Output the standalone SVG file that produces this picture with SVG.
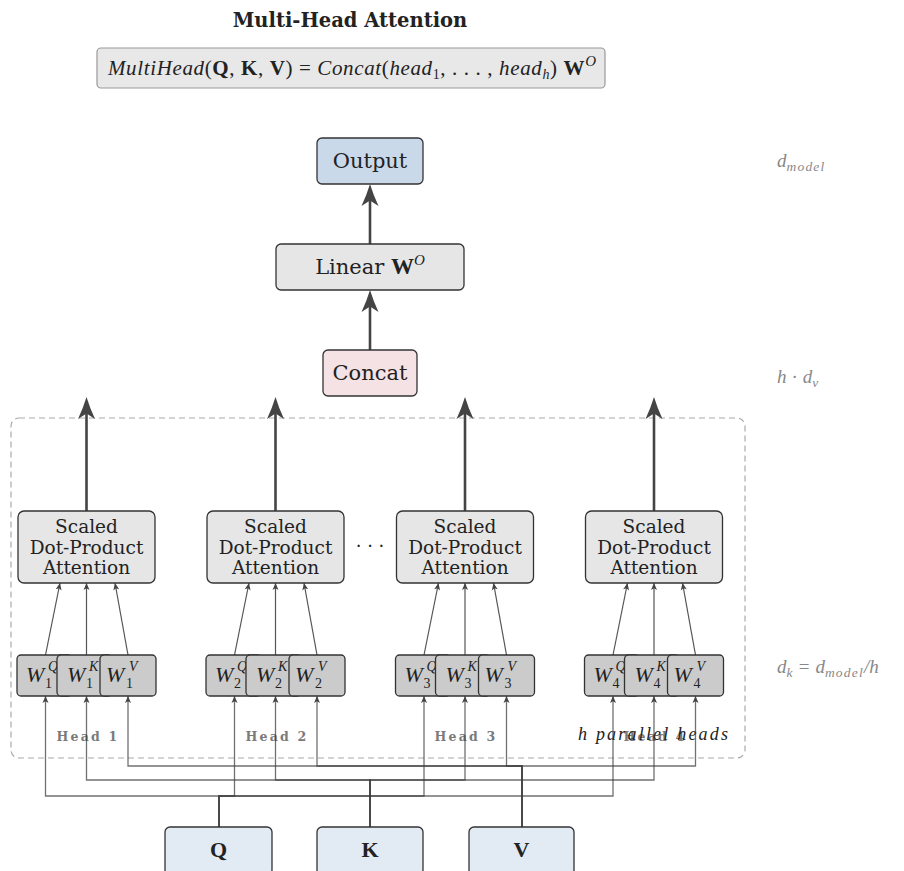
<svg xmlns="http://www.w3.org/2000/svg" width="904" height="871" viewBox="0 0 904 871">
  <style>
    .txt { font-family: "DejaVu Serif", "Liberation Serif", serif; fill: #222; }
    .math { font-family: "Liberation Serif", "DejaVu Serif", serif; fill: #222; }
    .title { font-family: "DejaVu Serif", "Liberation Serif", serif; font-weight: bold; font-size: 19.5px; fill: #222; }
    .node { stroke: #333; stroke-width: 1.3; }
    .gray { fill: #e6e6e6; }
    .wbox { fill: #cbcbcb; stroke: #333; stroke-width: 1.3; }
    .blue { fill: #c9d9ea; }
    .pink { fill: #f5e2e4; }
    .inp { fill: #e2eaf4; }
    .thick { stroke: #444; stroke-width: 2.6; fill: none; marker-end: url(#big); }
    .thin { stroke: #555; stroke-width: 1.2; fill: none; marker-end: url(#small); }
    .bus { stroke: #3a3a3a; stroke-opacity: 0.72; stroke-width: 1.3; fill: none; marker-end: url(#small); }
    .dim { font-family: "Liberation Serif", serif; font-style: italic; font-size: 19px; fill: #888; }
    .dsub { font-size: 13.5px; letter-spacing: 1.2px; }
    .head { font-family: "DejaVu Serif", "Liberation Serif", serif; font-weight: bold; font-size: 12.5px; letter-spacing: 2.2px; fill: #7a7a7a; }
    .sdpa { font-size: 18.5px; }
    .w { font-family: "Liberation Serif", serif; font-style: italic; font-size: 22px; fill: #222; }
    .ws { font-family: "Liberation Serif", serif; font-size: 14px; fill: #222; }
  </style>
  <defs>
    <marker id="big" markerUnits="userSpaceOnUse" markerWidth="30" markerHeight="20" refX="0" refY="0" orient="auto" overflow="visible">
      <path d="M10,0 Q0,-3 -12,-8.5 L-6.5,0 L-12,8.5 Q0,3 10,0 Z" fill="#444"/>
    </marker>
    <marker id="small" markerUnits="userSpaceOnUse" markerWidth="10" markerHeight="8" refX="0" refY="0" orient="auto" overflow="visible">
      <path d="M0,0 L-7,-3 L-5.3,0 L-7,3 Z" fill="#444"/>
    </marker>
  </defs>

  <!-- heading and formula -->
  <text class="title" x="350" y="27" text-anchor="middle">Multi-Head Attention</text>
  <g id="formula">
    <rect x="97" y="48" width="508" height="40" rx="4" fill="#e8e8e8" stroke="#999" stroke-width="1.2"/>
    <text class="math" x="108" y="75" font-size="21" textLength="488" lengthAdjust="spacing"><tspan font-style="italic">MultiHead</tspan>(<tspan font-weight="bold">Q</tspan>, <tspan font-weight="bold">K</tspan>, <tspan font-weight="bold">V</tspan>) = <tspan font-style="italic">Concat</tspan>(<tspan font-style="italic">head</tspan><tspan font-size="14" dy="4">1</tspan><tspan dy="-4">, . . . , </tspan><tspan font-style="italic">head</tspan><tspan font-size="14" font-style="italic" dy="4">h</tspan><tspan dy="-4">) </tspan><tspan font-weight="bold">W</tspan><tspan font-size="15" font-style="italic" dy="-9">O</tspan></text>
  </g>

  <!-- dimension notes -->
  <text class="dim" x="777" y="167">d<tspan class="dsub" dy="4">model</tspan></text>
  <text class="dim" x="777" y="383">h<tspan dx="5" font-style="normal">·</tspan><tspan dx="5">d</tspan><tspan class="dsub" dy="4">v</tspan></text>
  <text class="dim" x="777" y="673">d<tspan class="dsub" dy="4">k</tspan><tspan dy="-4" dx="5" font-style="normal">=</tspan><tspan dx="6">d</tspan><tspan class="dsub" dy="4">model</tspan><tspan dy="-4">/h</tspan></text>

  <!-- parallel heads frame -->
  <rect x="11" y="418" width="734" height="340" rx="8" fill="none" stroke="#aaa" stroke-width="1.2" stroke-dasharray="6,4"/>
  <g id="head-labels">
    <text class="head" x="88" y="741" text-anchor="middle">Head 1</text>
    <text class="head" x="277" y="741" text-anchor="middle">Head 2</text>
    <text class="head" x="466" y="741" text-anchor="middle">Head 3</text>
    <text class="head" x="655" y="741" text-anchor="middle">Head 4</text>
    <text class="math" x="578" y="740" font-size="18" font-style="italic" fill="#777" textLength="150" lengthAdjust="spacing">h parallel heads</text>
  </g>
  <text class="txt" x="370" y="552" text-anchor="middle" font-size="18" fill="#444">· · ·</text>

  <!-- connectors -->
  <g id="connectors">
    <line class="thick" x1="370" y1="244" x2="370" y2="194"/>
    <line class="thick" x1="370" y1="350" x2="370" y2="300"/>
    <line class="thick" x1="86.5" y1="511" x2="86.5" y2="407"/>
    <line class="thick" x1="275.5" y1="511" x2="275.5" y2="407"/>
    <line class="thick" x1="465" y1="511" x2="465" y2="407"/>
    <line class="thick" x1="654" y1="511" x2="654" y2="407"/>

    <!-- projections into attention -->
    <line class="thin" x1="45.5" y1="655" x2="60" y2="583"/>
    <line class="thin" x1="86.5" y1="655" x2="86.5" y2="583"/>
    <line class="thin" x1="128" y1="655" x2="115" y2="583"/>
    <line class="thin" x1="234.5" y1="655" x2="249" y2="583"/>
    <line class="thin" x1="275.5" y1="655" x2="275.5" y2="583"/>
    <line class="thin" x1="317" y1="655" x2="304" y2="583"/>
    <line class="thin" x1="424" y1="655" x2="438.5" y2="583"/>
    <line class="thin" x1="465" y1="655" x2="465" y2="583"/>
    <line class="thin" x1="506.5" y1="655" x2="493.5" y2="583"/>
    <line class="thin" x1="613" y1="655" x2="627.5" y2="583"/>
    <line class="thin" x1="654" y1="655" x2="654" y2="583"/>
    <line class="thin" x1="695.5" y1="655" x2="682.5" y2="583"/>

    <!-- Q bus -->
    <path class="bus" d="M219,827 V796 H45.5 V696"/>
    <path class="bus" d="M219,827 V796 H234.5 V696"/>
    <path class="bus" d="M219,827 V796 H424 V696"/>
    <path class="bus" d="M219,827 V796 H613 V696"/>
    <!-- K bus -->
    <path class="bus" d="M370,827 V780 H86.5 V696"/>
    <path class="bus" d="M370,827 V780 H275.5 V696"/>
    <path class="bus" d="M370,827 V780 H465 V696"/>
    <path class="bus" d="M370,827 V780 H654 V696"/>
    <!-- V bus -->
    <path class="bus" d="M522,827 V766 H128 V696"/>
    <path class="bus" d="M522,827 V766 H317 V696"/>
    <path class="bus" d="M522,827 V766 H506.5 V696"/>
    <path class="bus" d="M522,827 V766 H695.5 V696"/>
  </g>

  <!-- output stack -->
  <g id="output">
    <rect class="node blue" x="317" y="138" width="106" height="46" rx="5"/>
    <text class="txt" x="370" y="168" text-anchor="middle" font-size="21">Output</text>
  </g>
  <g id="linear">
    <rect class="node gray" x="276" y="244" width="188" height="46" rx="5"/>
    <text class="txt" x="370" y="274" text-anchor="middle" font-size="21">Linear <tspan class="math" font-weight="bold" font-size="23">W</tspan><tspan class="math" font-style="italic" font-size="15" dy="-9">O</tspan></text>
  </g>
  <g id="concat">
    <rect class="node pink" x="323" y="350" width="94" height="46" rx="5"/>
    <text class="txt" x="370" y="380" text-anchor="middle" font-size="21">Concat</text>
  </g>

  <!-- attention blocks -->
  <g id="sdpa-1">
    <rect class="node gray" x="18" y="511" width="137" height="72" rx="6"/>
    <text class="txt sdpa" text-anchor="middle"><tspan x="86.5" y="533">Scaled</tspan><tspan x="86.5" y="553.5">Dot-Product</tspan><tspan x="86.5" y="574">Attention</tspan></text>
  </g>
  <g id="sdpa-2">
    <rect class="node gray" x="207" y="511" width="137" height="72" rx="6"/>
    <text class="txt sdpa" text-anchor="middle"><tspan x="275.5" y="533">Scaled</tspan><tspan x="275.5" y="553.5">Dot-Product</tspan><tspan x="275.5" y="574">Attention</tspan></text>
  </g>
  <g id="sdpa-3">
    <rect class="node gray" x="396.5" y="511" width="137" height="72" rx="6"/>
    <text class="txt sdpa" text-anchor="middle"><tspan x="465" y="533">Scaled</tspan><tspan x="465" y="553.5">Dot-Product</tspan><tspan x="465" y="574">Attention</tspan></text>
  </g>
  <g id="sdpa-4">
    <rect class="node gray" x="585.5" y="511" width="137" height="72" rx="6"/>
    <text class="txt sdpa" text-anchor="middle"><tspan x="654" y="533">Scaled</tspan><tspan x="654" y="553.5">Dot-Product</tspan><tspan x="654" y="574">Attention</tspan></text>
  </g>

  <!-- projection matrices, head 1 -->
  <g id="wq-1"><rect class="wbox" x="17" y="655" width="55" height="41" rx="4"/><text class="w" x="26" y="682">W</text><text class="ws" x="45" y="688">1</text><text class="ws" x="48" y="671" font-style="italic">Q</text></g>
  <g id="wk-1"><rect class="wbox" x="57" y="655" width="55" height="41" rx="4"/><text class="w" x="67" y="682">W</text><text class="ws" x="86" y="688">1</text><text class="ws" x="89" y="671" font-style="italic">K</text></g>
  <g id="wv-1"><rect class="wbox" x="100" y="655" width="56" height="41" rx="4"/><text class="w" x="106" y="682">W</text><text class="ws" x="126" y="688">1</text><text class="ws" x="129" y="671" font-style="italic">V</text></g>
  <!-- head 2 -->
  <g id="wq-2"><rect class="wbox" x="206" y="655" width="55" height="41" rx="4"/><text class="w" x="215" y="682">W</text><text class="ws" x="234" y="688">2</text><text class="ws" x="237" y="671" font-style="italic">Q</text></g>
  <g id="wk-2"><rect class="wbox" x="246" y="655" width="55" height="41" rx="4"/><text class="w" x="256" y="682">W</text><text class="ws" x="275" y="688">2</text><text class="ws" x="278" y="671" font-style="italic">K</text></g>
  <g id="wv-2"><rect class="wbox" x="289" y="655" width="56" height="41" rx="4"/><text class="w" x="295" y="682">W</text><text class="ws" x="315" y="688">2</text><text class="ws" x="318" y="671" font-style="italic">V</text></g>
  <!-- head 3 -->
  <g id="wq-3"><rect class="wbox" x="395.5" y="655" width="55" height="41" rx="4"/><text class="w" x="404.5" y="682">W</text><text class="ws" x="423.5" y="688">3</text><text class="ws" x="426.5" y="671" font-style="italic">Q</text></g>
  <g id="wk-3"><rect class="wbox" x="435.5" y="655" width="55" height="41" rx="4"/><text class="w" x="445.5" y="682">W</text><text class="ws" x="464.5" y="688">3</text><text class="ws" x="467.5" y="671" font-style="italic">K</text></g>
  <g id="wv-3"><rect class="wbox" x="478.5" y="655" width="56" height="41" rx="4"/><text class="w" x="484.5" y="682">W</text><text class="ws" x="504.5" y="688">3</text><text class="ws" x="507.5" y="671" font-style="italic">V</text></g>
  <!-- head 4 -->
  <g id="wq-4"><rect class="wbox" x="584.5" y="655" width="55" height="41" rx="4"/><text class="w" x="593.5" y="682">W</text><text class="ws" x="612.5" y="688">4</text><text class="ws" x="615.5" y="671" font-style="italic">Q</text></g>
  <g id="wk-4"><rect class="wbox" x="624.5" y="655" width="55" height="41" rx="4"/><text class="w" x="634.5" y="682">W</text><text class="ws" x="653.5" y="688">4</text><text class="ws" x="656.5" y="671" font-style="italic">K</text></g>
  <g id="wv-4"><rect class="wbox" x="667.5" y="655" width="56" height="41" rx="4"/><text class="w" x="673.5" y="682">W</text><text class="ws" x="693.5" y="688">4</text><text class="ws" x="696.5" y="671" font-style="italic">V</text></g>

  <!-- inputs -->
  <g id="input-q">
    <rect class="node inp" x="165" y="827" width="107" height="48" rx="5"/>
    <text class="math" x="218.5" y="857" text-anchor="middle" font-size="22" font-weight="bold">Q</text>
  </g>
  <g id="input-k">
    <rect class="node inp" x="317" y="827" width="106" height="48" rx="5"/>
    <text class="math" x="370" y="857" text-anchor="middle" font-size="22" font-weight="bold">K</text>
  </g>
  <g id="input-v">
    <rect class="node inp" x="469" y="827" width="105" height="48" rx="5"/>
    <text class="math" x="521.5" y="857" text-anchor="middle" font-size="22" font-weight="bold">V</text>
  </g>
</svg>
